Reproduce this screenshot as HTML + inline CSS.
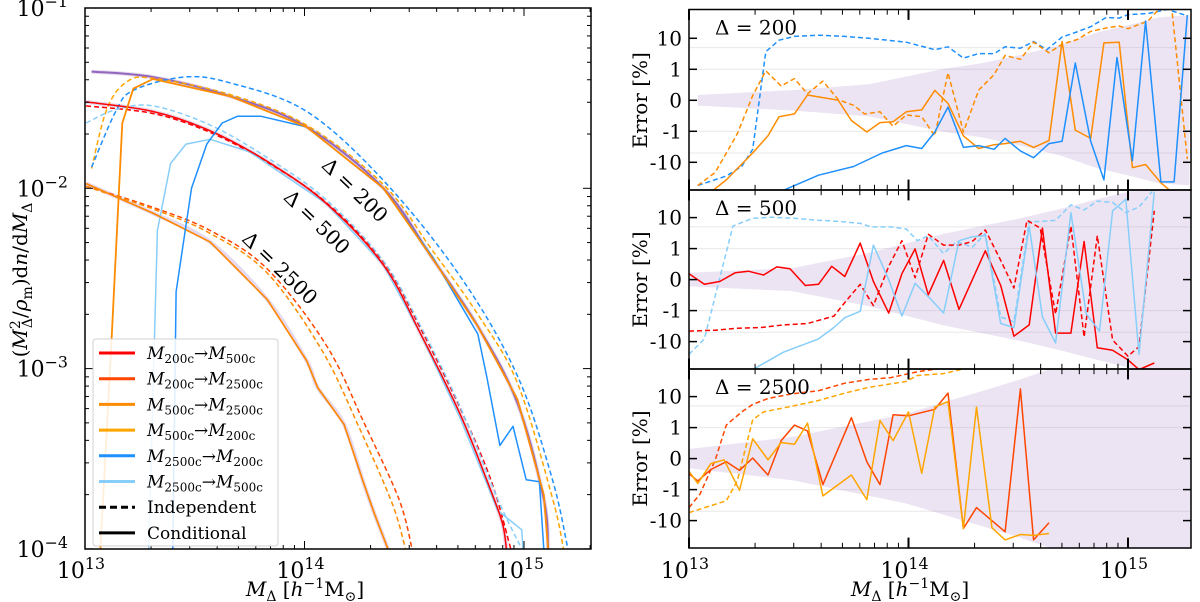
<!DOCTYPE html>
<html><head><meta charset="utf-8">
<style>
html,body{margin:0;padding:0;background:#fff;}
svg{display:block;font-family:"DejaVu Serif","Liberation Serif",serif;}
</style></head>
<body>
<svg id="chart" width="1200" height="602" viewBox="0 0 1200 602" xmlns="http://www.w3.org/2000/svg">
<defs>
<clipPath id="clipL"><rect x="85" y="8" width="506" height="541"/></clipPath>
<clipPath id="clipR0"><rect x="689" y="9.5" width="502" height="180.5"/></clipPath>
<clipPath id="clipR1"><rect x="689" y="190" width="502" height="179"/></clipPath>
<clipPath id="clipR2"><rect x="689" y="369" width="502" height="179"/></clipPath>
</defs>
<g id="left"></g>
<g id="right"></g>
</svg>
<script>
// ---------- LEFT PANEL DATA (log10 M, log10 y) ----------
const fit200M = [13.03,13.31,13.66,14.01,14.36,14.58,14.79,14.97,15.09,15.11];
const fit200Y = [-1.353,-1.383,-1.489,-1.66,-2.0,-2.383,-2.766,-3.19,-3.723,-4.0];
const o200M = [13.07,13.12,13.17,13.22,13.31,13.66,14.01,14.36,14.58,14.79,14.97,15.09,15.11];
const o200Y = [-4,-2.87,-1.638,-1.447,-1.394,-1.489,-1.66,-2.0,-2.383,-2.766,-3.17,-3.70,-4.0];
const o200dM = [13.03,13.10,13.19,13.31,13.66,14.01,14.36,14.58,14.79,14.97,15.13,15.18];
const o200dY = [-1.89,-1.56,-1.41,-1.39,-1.48,-1.65,-1.98,-2.34,-2.70,-3.08,-3.72,-4.0];
const b200dM = [13.03,13.14,13.22,13.45,13.66,14.01,14.36,14.71,14.97,15.13,15.20];
const b200dY = [-1.883,-1.574,-1.457,-1.383,-1.415,-1.574,-1.957,-2.489,-3.04,-3.617,-4.0];
const b200M = [13.40,13.415,13.485,13.555,13.625,13.695,13.80,14.01,14.36,14.585,14.79,14.83,14.89,14.95,15.01,15.07,15.09];
const b200Y = [-4,-2.574,-2.0,-1.755,-1.638,-1.6,-1.6,-1.66,-2.0,-2.383,-2.81,-3.043,-3.426,-3.32,-3.617,-3.628,-4];
const r500M = [13.005,13.31,13.57,13.83,14.10,14.36,14.53,14.71,14.83,14.90,14.92];
const r500Y = [-1.521,-1.574,-1.681,-1.851,-2.085,-2.426,-2.809,-3.255,-3.617,-3.851,-4];
const r500dM = [13.005,13.31,13.57,13.83,14.10,14.36,14.53,14.71,14.85,14.94];
const r500dY = [-1.543,-1.585,-1.69,-1.855,-2.08,-2.41,-2.78,-3.22,-3.62,-4];
const lb500dM = [13.005,13.14,13.31,13.57,13.83,14.10,14.36,14.53,14.71,14.88,14.99];
const lb500dY = [-1.638,-1.564,-1.543,-1.649,-1.83,-2.064,-2.404,-2.766,-3.213,-3.723,-4];
const lb500M = [13.29,13.33,13.39,13.46,13.57,13.75,14.10,14.36,14.53,14.71,14.88,14.99,14.995];
const lb500Y = [-4,-2.234,-1.862,-1.755,-1.728,-1.798,-2.085,-2.426,-2.809,-3.277,-3.787,-3.894,-4];
const c2500M = [13.005,13.31,13.57,13.83,14.01,14.06,14.18,14.27,14.32,14.38];
const c2500Y = [-1.974,-2.138,-2.298,-2.617,-2.957,-3.106,-3.309,-3.638,-3.809,-4];
const rr2500dM = [13.005,13.31,13.57,13.83,14.10,14.27,14.43,14.49];
const rr2500dY = [-1.989,-2.106,-2.234,-2.447,-2.872,-3.298,-3.723,-4];
const do2500dM = [13.005,13.31,13.57,13.83,14.08,14.25,14.40,14.46];
const do2500dY = [-1.99,-2.115,-2.25,-2.47,-2.90,-3.33,-3.75,-4];
const leftYTicks = [-1,-2,-3,-4];
const xTickExp = [13,14,15];

// ---------- RIGHT PANEL DATA (log10 M, error %) ----------
const t_bdM = [13.04,13.17,13.24,13.29,13.35,13.41,13.48,13.59,13.71,13.82,13.99,14.12,14.18,14.25,14.32,14.39,14.44,14.51,14.57,14.63,14.70,14.76,14.83,14.90,14.96,15.00,15.09,15.18,15.26];
const t_bdV = [-56,-27.7,-13.7,-3.8,3.7,8.7,11.5,12.6,11.5,10,7.5,4.3,5.3,2.3,3.2,3.2,5.3,4.8,7.9,4.3,11,15.4,23.6,47,45,58,63,85,56];
const t_odM = [13.04,13.12,13.22,13.29,13.35,13.42,13.48,13.54,13.61,13.68,13.75,13.80,13.87,13.93,13.99,14.06,14.12,14.18,14.25,14.32,14.39,14.44,14.51,14.57,14.64,14.70,14.77,14.83,14.90,14.96,15.00,15.09,15.14,15.20,15.27];
const t_odV = [-56,-21,-1.2,0.15,0.95,0.46,0.7,0.21,0.62,0.02,-0.16,-0.44,-0.37,-0.84,-0.47,-0.53,-1.4,0.89,-1.05,0.33,0.83,2.8,2.1,7.5,3.4,6.5,9.2,16.7,21.5,25,20.4,36,85,85,-7.8];
const t_osM = [13.11,13.17,13.29,13.36,13.41,13.48,13.54,13.68,13.74,13.81,13.87,13.93,13.99,14.06,14.12,14.18,14.25,14.32,14.39,14.44,14.51,14.57,14.64,14.70,14.76,14.83,14.89,14.96,15.02,15.08,15.15,15.19];
const t_osV = [-80,-37,-5,-1.4,-0.53,-0.44,0.17,0,-0.65,-1.05,-0.72,-0.69,-0.37,-0.31,0.32,-0.1,-1.4,-3.6,-2.7,-2.5,-2.1,-3.3,-2.0,7.9,-0.96,-1.7,7.1,7.5,-14.8,-11.8,-46,-80];
const t_bsM = [13.43,13.59,13.75,13.88,13.99,14.06,14.12,14.18,14.25,14.32,14.39,14.44,14.51,14.57,14.64,14.70,14.76,14.83,14.89,14.95,15.02,15.08,15.15,15.21,15.27];
const t_bsV = [-80,-26,-13.7,-5,-2.9,-3.6,-1.05,-0.22,-3.3,-2.9,-3.8,-1.7,-4.3,-7.1,-2.5,-2.1,1.6,-2.1,-37,2.4,-8.9,36,-43,-43,56];
const t_bandM = [13.04,13.47,13.82,14.16,14.34,14.51,14.69,14.86,15.04,15.14,15.28];
const t_bandV = [0.17,0.33,0.52,1.03,1.6,2.9,6,15.5,31,48,55];

const m_ldM = [13.00,13.07,13.20,13.29,13.38,13.48,13.59,13.69,13.78,13.83,13.92,13.99,14.04,14.09,14.16,14.22,14.29,14.35,14.42,14.48,14.55,14.60,14.67,14.74,14.80,14.86,14.93,14.99,15.05,15.11];
const m_ldV = [-25.6,-8.2,5.3,9.5,10.3,9.5,8.2,7.5,6.5,5.0,5.0,4.3,1.8,2.6,0.84,1.7,1.1,3.0,-1.6,-2.3,7.5,7.5,8.2,25.6,17.7,34,31,14.5,22,69];
const m_lsM = [13.29,13.43,13.59,13.66,13.71,13.78,13.84,13.91,13.97,14.03,14.10,14.16,14.23,14.29,14.35,14.42,14.48,14.55,14.61,14.67,14.74,14.81,14.87,14.93,14.99,15.05,15.12];
const m_lsV = [-80,-22,-8.2,-3.5,-1.7,-1.05,1.3,0,-1.5,-0.12,-0.62,-1.2,1.8,2.4,2.6,-2.6,-3.5,5.3,-1.6,-11,14.5,-1.3,-4.6,16.6,39,-25.6,69];
const m_rsM = [13.00,13.07,13.14,13.21,13.27,13.34,13.40,13.46,13.53,13.59,13.65,13.71,13.78,13.84,13.91,13.97,14.03,14.09,14.16,14.23,14.35,14.42,14.48,14.55,14.61,14.67,14.74,14.80,14.86,14.93,15.00,15.05,15.12];
const m_rsV = [0.19,-0.15,-0.06,0.22,0.27,0.15,0.41,0.35,-0.19,-0.15,0.43,0.1,1.5,-0.06,-1.2,0.19,0.99,-0.49,0.62,-0.96,0.93,-0.19,-6.7,-2.9,4.6,-5.3,-5.3,1.7,-15.8,-19,-39,-80,-49];
const m_rdM = [13.00,13.12,13.22,13.33,13.43,13.54,13.66,13.71,13.78,13.84,13.91,13.97,14.03,14.09,14.16,14.23,14.29,14.35,14.42,14.48,14.54,14.60,14.67,14.74,14.80,14.86,14.93,15.00,15.05,15.12];
const m_rdV = [-4.6,-4.3,-3.7,-3.5,-2.9,-2.6,-1.5,-0.74,-0.15,-0.84,0.43,1.8,0.06,2.9,1.3,1.3,1.7,4.0,0.62,-0.27,8.2,4.6,-1.3,5.3,-7.1,2.6,-8.9,-29.5,-14.5,16.6];
const m_bandM = [13.00,13.47,13.82,14.16,14.51,14.69,14.86,15.04,15.30];
const m_bandV = [0.22,0.37,0.86,3.0,9.5,19,39,80,300];

const b_rdM = [13.00,13.05,13.12,13.17,13.24,13.29,13.36,13.47,13.59,13.71,13.82,13.92,14.04,14.16,14.34,14.60];
const b_rdV = [-3.8,-1.4,-0.04,1.2,3.2,5.6,8.7,12.3,15.5,27,36,41,63,85,85,85];
const b_odM = [13.00,13.17,13.22,13.29,13.34,13.47,13.59,13.71,13.82,13.99,14.04,14.16,14.27,14.37,14.60];
const b_odV = [-5.5,-2.3,-0.72,1.8,3.2,4.9,7.5,13,20,31,48,55,85,85,85];
const b_rsM = [13.00,13.04,13.10,13.17,13.23,13.29,13.36,13.42,13.48,13.54,13.61,13.74,13.81,13.87,13.93,14.00,14.12,14.18,14.25,14.31,14.44,14.51,14.57,14.64];
const b_rsV = [-0.49,-0.72,-0.35,-0.1,-0.38,0.02,-0.53,0.58,1.2,0.89,-0.84,2.1,-0.1,-0.84,2.6,2.4,3.9,13,-18,-3.8,-23,17.7,-42,-11.8];
const b_osM = [13.00,13.04,13.10,13.16,13.23,13.29,13.36,13.42,13.48,13.54,13.61,13.74,13.81,13.87,13.93,14.00,14.06,14.12,14.18,14.25,14.31,14.38,14.44,14.51,14.57,14.64];
const b_osV = [-0.41,-0.8,-0.16,-0.04,-1.05,0.64,-0.04,0.52,0.46,1.4,-1.6,-0.53,-2.1,1.7,0.58,3.2,-0.47,4.6,6.9,-18,4.6,-17,-42,-28,-30,-26];
const b_bandM = [13.00,13.47,13.99,14.16,14.34,14.51,14.69,15.30];
const b_bandV = [0.31,0.7,2.8,6.5,15.5,36,100,300];

const errTicks = [10,1,0,-1,-10];
const errTickLabels = ["10","1","0","-1","-10"];
const panelLabels = ["Δ = 200","Δ = 500","Δ = 2500"];

// ---------- helpers ----------
const NS = "http://www.w3.org/2000/svg";
function mk(tag, attrs, parent){ const e=document.createElementNS(NS,tag); for(const k in attrs) e.setAttribute(k,attrs[k]); if(parent) parent.appendChild(e); return e; }
const XL = lg => 85 + (lg-13)*219.5;
const YL = lg => 8 + (-1-lg)*180.3;
const XR = lg => 689 + (lg-13)*219.5;
const centers = [100.3, 279.6, 458.6];
const sym = v => Math.abs(v)<=1 ? v : Math.sign(v)*(1+Math.log10(Math.abs(v)));
const YR = (p,v) => centers[p] - sym(v)*31;

const L = document.getElementById('left');
const R = document.getElementById('right');

function smoothPath(pts){
  let d = 'M'+pts[0][0].toFixed(1)+' '+pts[0][1].toFixed(1);
  for(let i=0;i<pts.length-1;i++){
    const p0=pts[Math.max(0,i-1)], p1=pts[i], p2=pts[i+1], p3=pts[Math.min(pts.length-1,i+2)];
    const c1=[p1[0]+(p2[0]-p0[0])/6, p1[1]+(p2[1]-p0[1])/6];
    const c2=[p2[0]-(p3[0]-p1[0])/6, p2[1]-(p3[1]-p1[1])/6];
    d += ' C'+c1[0].toFixed(1)+' '+c1[1].toFixed(1)+' '+c2[0].toFixed(1)+' '+c2[1].toFixed(1)+' '+p2[0].toFixed(1)+' '+p2[1].toFixed(1);
  }
  return d;
}
function lineL(ms, ys, color, dash, w, name, op, smooth){
  const pts = ms.map((m,i)=>[XL(m), YL(ys[i])]);
  const d = smooth ? smoothPath(pts) : pts.map((q,i)=>(i?'L':'M')+q[0].toFixed(1)+' '+q[1].toFixed(1)).join(' ');
  const p = mk('path',{d:d,fill:'none',stroke:color,'stroke-width':w,'stroke-dasharray':dash||'none','stroke-linejoin':'round','clip-path':'url(#clipL)',opacity:op||1},L);
  
  
}
function lineR(p, ms, vs, color, dash, name){
  const d = ms.map((m,i)=>(i?'L':'M')+XR(m).toFixed(1)+' '+YR(p,vs[i]).toFixed(1)).join(' ');
  const e = mk('path',{d:d,fill:'none',stroke:color,'stroke-width':1.5,'stroke-dasharray':dash||'none','stroke-linejoin':'round','clip-path':'url(#clipR'+p+')'},R);
  
  
}
function bandR(p, ms, vs, name){
  let d = ms.map((m,i)=>(i?'L':'M')+XR(m).toFixed(1)+' '+YR(p,vs[i]).toFixed(1)).join(' ');
  for(let i=ms.length-1;i>=0;i--) d += ' L'+XR(ms[i]).toFixed(1)+' '+YR(p,-vs[i]).toFixed(1);
  const e = mk('path',{d:d+' Z',fill:'#9467bd','fill-opacity':0.18,stroke:'none','clip-path':'url(#clipR'+p+')'},R);
  
  
}
function supText(parent, x, y, base, sup, anchor, size, name){
  const t = mk('text',{x:x,y:y,'font-size':size,'text-anchor':anchor,fill:'#000'},parent);
  
  
  const a = mk('tspan',{},t); a.textContent = base;
  const b = mk('tspan',{dy:-9,'font-size':size*0.72},t); b.textContent = sup;
  return t;
}

// ---------- LEFT PANEL ----------
const RED='#ff0000', OR='#ff4500', DO='#ff8c00', O='#ffa500', DB='#1e90ff', LB='#87cefa', PU='#9467bd';
lineL(fit200M, fit200Y, PU, null, 4, 'band-delta200', 0.25, true);
lineL(r500M, r500Y, PU, null, 4, 'band-delta500', 0.25, true);
lineL(c2500M, c2500Y, PU, null, 4, 'band-delta2500', 0.25, true);
lineL(fit200M, fit200Y, PU, null, 2, 'reference-delta200', 1, true);
lineL(o200dM, o200dY, O, '5 3', 1.5, 'independent-m500-to-m200', 1, true);
lineL(b200dM, b200dY, DB, '5 3', 1.5, 'independent-m2500-to-m200', 1, true);
lineL(r500dM, r500dY, RED, '5 3', 1.5, 'independent-m200-to-m500', 1, true);
lineL(lb500dM, lb500dY, LB, '5 3', 1.5, 'independent-m2500-to-m500', 1, true);
lineL(rr2500dM, rr2500dY, OR, '5 3', 1.5, 'independent-m200-to-m2500', 1, true);
lineL(do2500dM, do2500dY, DO, '5 3', 1.5, 'independent-m500-to-m2500', 1, true);
lineL(lb500M, lb500Y, LB, null, 1.5, 'conditional-m2500-to-m500');
lineL(r500M, r500Y, RED, null, 1.5, 'conditional-m200-to-m500', 1, true);
lineL(c2500M, c2500Y, OR, null, 1.5, 'conditional-m200-to-m2500');
lineL(c2500M, c2500Y, DO, null, 1.5, 'conditional-m500-to-m2500');
lineL(b200M, b200Y, DB, null, 1.5, 'conditional-m2500-to-m200');
lineL(o200M, o200Y, DO, null, 1.8, 'conditional-m500-to-m200');

const fL = mk('rect',{x:85,y:8,width:506,height:541,fill:'none',stroke:'#000','stroke-width':1.5},L);
 
for(let e=13;e<=15;e++){
  for(let k=1;k<=9;k++){
    const lg = e+Math.log10(k); const x = XL(lg); if(x>591) continue;
    const len = k===1?8:4;
    mk('line',{x1:x,y1:549,x2:x,y2:549-len,stroke:'#000','stroke-width':1},L);
    mk('line',{x1:x,y1:8,x2:x,y2:8+len,stroke:'#000','stroke-width':1},L);
  }
}
xTickExp.forEach(e=>supText(L, XL(e)-4, 578, '10', String(e), 'middle', 22, 'x-tick-label-1e'+e));
for(let e=-4;e<=-1;e++){
  for(let k=1;k<=9;k++){
    if(e===-1 && k>1) continue;
    const y = YL(e+Math.log10(k)); const len=k===1?8:4;
    mk('line',{x1:85,y1:y,x2:85+len,y2:y,stroke:'#000','stroke-width':1},L);
    mk('line',{x1:591,y1:y,x2:591-len,y2:y,stroke:'#000','stroke-width':1},L);
  }
}
leftYTicks.forEach(e=>supText(L, 68, YL(e)+8, '10', '−'+Math.abs(e), 'end', 22, 'y-tick-label-1e'+e));
[['Δ = 200',355,190],['Δ = 500',317,222],['Δ = 2500',280,268]].forEach((a,i)=>{
  const t = mk('text',{x:a[1],y:a[2]+7,'font-size':20,'text-anchor':'middle',transform:'rotate(44 '+a[1]+' '+a[2]+')'},L);
  
  
  t.textContent = a[0];
});
const yt = mk('text',{x:0,y:0,'font-size':20,'text-anchor':'middle',transform:'translate(27 280) rotate(-90)'},L);
 
yt.innerHTML = '(<tspan font-style="italic">M</tspan><tspan dy="-7" font-size="14">2</tspan><tspan dx="-8" dy="12" font-size="14">Δ</tspan><tspan dy="-5">/</tspan><tspan font-style="italic">ρ</tspan><tspan dy="5" font-size="14">m</tspan><tspan dy="-5">)d</tspan><tspan font-style="italic">n</tspan>/d<tspan font-style="italic">M</tspan><tspan dy="5" font-size="14">Δ</tspan>';
function xTitle(parent,cx,name){
  const t = mk('text',{x:cx,y:596,'font-size':20,'text-anchor':'middle'},parent);
   
  t.innerHTML = '<tspan font-style="italic">M</tspan><tspan dy="5" font-size="14">Δ</tspan><tspan dy="-5"> [</tspan><tspan font-style="italic">h</tspan><tspan dy="-8" font-size="14">−1</tspan><tspan dy="8">M</tspan><tspan dy="5" font-size="14">⊙</tspan><tspan dy="-5">]</tspan>';
}
xTitle(L,305,'left-x-axis-title');

const lg = mk('g',{},L);
 
mk('rect',{x:93,y:339,width:185,height:207,rx:3,fill:'#fff','fill-opacity':0.85,stroke:'#d0d0d0','stroke-width':1},lg);
const legC = [RED,OR,DO,O,DB,LB];
const legFrom = ['200c','200c','500c','500c','2500c','2500c'];
const legTo = ['500c','2500c','2500c','200c','200c','500c'];
for(let i=0;i<8;i++){
  const y = 353 + i*25.7;
  const ln = mk('line',{x1:99,y1:y,x2:135,y2:y,stroke:i<6?legC[i]:'#000','stroke-width':3,'stroke-dasharray':i===6?'7 4':'none'},lg);
   
  const t = mk('text',{x:147,y:y+6,'font-size':17},lg);
   
  if(i<6) t.innerHTML = '<tspan font-style="italic">M</tspan><tspan dy="4" font-size="12">'+legFrom[i]+'</tspan><tspan dy="-4">→</tspan><tspan font-style="italic">M</tspan><tspan dy="4" font-size="12">'+legTo[i]+'</tspan>';
  else t.textContent = i===6 ? 'Independent' : 'Conditional';
}

// ---------- RIGHT PANELS ----------
const bounds = [[9.5,190],[190,369],[369,548]];
const bands = [[t_bandM,t_bandV],[m_bandM,m_bandV],[b_bandM,b_bandV]];
for(let p=0;p<3;p++){
  [1,5,-1,-5].forEach(v=>mk('line',{x1:689,x2:1191,y1:YR(p,v),y2:YR(p,v),stroke:'#e8e8e8','stroke-width':1},R));
  bandR(p, bands[p][0], bands[p][1], 'error-band-panel-'+p);
}
lineR(0,t_bdM,t_bdV,DB,'5 3','d200-independent-m2500-to-m200');
lineR(0,t_odM,t_odV,DO,'5 3','d200-independent-m500-to-m200');
lineR(0,t_osM,t_osV,DO,null,'d200-conditional-m500-to-m200');
lineR(0,t_bsM,t_bsV,DB,null,'d200-conditional-m2500-to-m200');
lineR(1,m_ldM,m_ldV,LB,'5 3','d500-independent-m2500-to-m500');
lineR(1,m_rdM,m_rdV,RED,'5 3','d500-independent-m200-to-m500');
lineR(1,m_rsM,m_rsV,RED,null,'d500-conditional-m200-to-m500');
lineR(1,m_lsM,m_lsV,LB,null,'d500-conditional-m2500-to-m500');
lineR(2,b_rdM,b_rdV,OR,'5 3','d2500-independent-m200-to-m2500');
lineR(2,b_odM,b_odV,O,'5 3','d2500-independent-m500-to-m2500');
lineR(2,b_rsM,b_rsV,OR,null,'d2500-conditional-m200-to-m2500');
lineR(2,b_osM,b_osV,O,null,'d2500-conditional-m500-to-m2500');

for(let p=0;p<3;p++){
  const [y0,y1] = bounds[p];
  const fr = mk('rect',{x:689,y:y0,width:502,height:y1-y0,fill:'none',stroke:'#000','stroke-width':1.5},R);
   
  for(let e=13;e<=15;e++) for(let k=1;k<=9;k++){
    const x = XR(e+Math.log10(k)); if(x>1191) continue;
    const len = k===1?8:4;
    mk('line',{x1:x,y1:y1,x2:x,y2:y1-len*1.3,stroke:'#000','stroke-width':k===1?2:1},R);
    mk('line',{x1:x,y1:y0,x2:x,y2:y0+len*1.3,stroke:'#000','stroke-width':k===1?2:1},R);
  }
  errTicks.forEach((v,i)=>{
    const y = YR(p,v);
    mk('line',{x1:689,y1:y,x2:697,y2:y,stroke:'#000','stroke-width':1.5},R);
    mk('line',{x1:1191,y1:y,x2:1183,y2:y,stroke:'#000','stroke-width':1.5},R);
    const t = mk('text',{x:682,y:y+7,'font-size':20,'text-anchor':'end'},R);
     
    t.textContent = errTickLabels[i];
  });
  const yl = mk('text',{x:0,y:0,'font-size':20,'text-anchor':'middle',transform:'translate('+647+' '+centers[p]+') rotate(-90)'},R);
   
  yl.textContent = 'Error [%]';
  const pl = mk('text',{x:715,y:y0+25,'font-size':20},R);
   
  pl.textContent = panelLabels[p];
}
xTickExp.forEach(e=>supText(R, XR(e)-4, 578, '10', String(e), 'middle', 22, 'right-x-tick-label-1e'+e));
xTitle(R,910,'right-x-axis-title');
</script>
</body></html>
